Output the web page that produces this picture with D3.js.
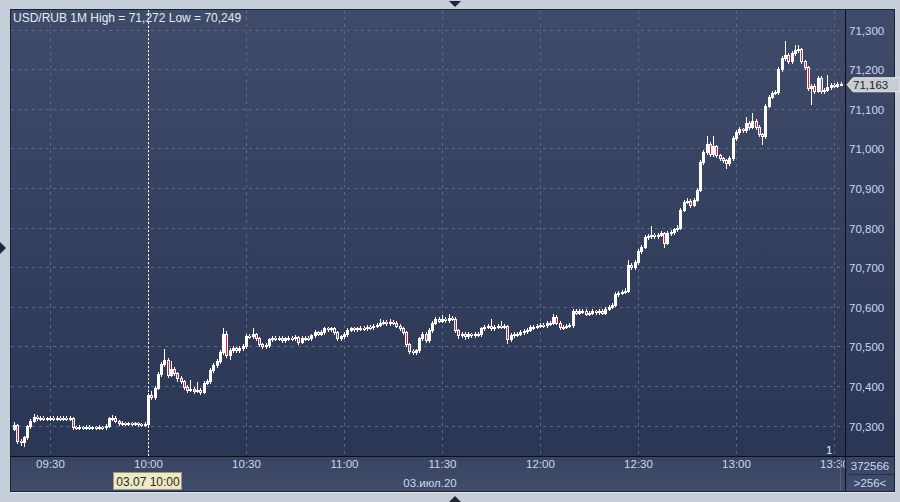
<!DOCTYPE html>
<html><head><meta charset="utf-8">
<script src="https://cdn.jsdelivr.net/npm/d3@7"></script>
<style>html,body{margin:0;padding:0;background:#c6ced9;overflow:hidden}svg{display:block}</style>
</head><body>
<svg id="chart" width="900" height="502"></svg>
<script>
// ---- data: USD/RUB 1-minute candles, 03.07.2020 from 09:19 ----
const startTime = "2020-07-03T09:19:00";
const title = "USD/RUB 1M High = 71,272 Low = 70,249";
const opens = [70.292,70.302,70.262,70.258,70.270,70.298,70.312,70.322,70.318,70.320,70.318,70.318,70.320,70.317,70.319,70.318,70.320,70.318,70.319,70.296,
70.295,70.297,70.295,70.297,70.294,70.296,70.295,70.297,70.296,70.300,70.318,70.320,70.312,70.306,70.307,70.305,70.306,70.305,70.306,70.304,
70.302,70.305,70.378,70.372,70.395,70.430,70.455,70.465,70.428,70.442,70.432,70.420,70.412,70.398,70.390,70.392,70.388,70.390,70.385,70.408,
70.412,70.440,70.452,70.462,70.485,70.530,70.478,70.490,70.495,70.490,70.495,70.500,70.527,70.525,70.530,70.520,70.505,70.500,70.503,70.518,
70.522,70.520,70.522,70.516,70.520,70.522,70.520,70.523,70.512,70.520,70.522,70.520,70.528,70.535,70.532,70.535,70.545,70.543,70.545,70.535,
70.520,70.525,70.530,70.542,70.545,70.543,70.545,70.547,70.545,70.550,70.548,70.552,70.555,70.560,70.562,70.558,70.562,70.560,70.552,70.545,
70.535,70.505,70.488,70.485,70.490,70.520,70.532,70.516,70.540,70.560,70.568,70.565,70.570,70.566,70.572,70.570,70.540,70.528,70.532,70.525,
70.530,70.528,70.530,70.531,70.545,70.550,70.552,70.545,70.550,70.552,70.550,70.551,70.518,70.528,70.530,70.532,70.535,70.538,70.542,70.548,
70.550,70.552,70.555,70.553,70.558,70.560,70.575,70.560,70.548,70.550,70.552,70.553,70.590,70.585,70.588,70.590,70.582,70.585,70.588,70.586,
70.590,70.585,70.595,70.600,70.605,70.632,70.635,70.638,70.640,70.705,70.700,70.712,70.740,70.752,70.775,70.778,70.780,70.778,70.782,70.785,
70.762,70.785,70.788,70.795,70.800,70.845,70.865,70.868,70.858,70.870,70.895,70.965,70.990,71.012,70.985,71.005,70.982,70.975,70.970,70.962,
70.975,71.025,71.040,71.048,71.045,71.065,71.055,71.070,71.055,71.035,71.030,71.108,71.130,71.140,71.142,71.200,71.228,71.235,71.220,71.240,
71.248,71.250,71.220,71.205,71.152,71.158,71.145,71.178,71.145,71.148,71.155,71.160,71.158,71.163];
const highs = [70.308,70.305,70.267,70.274,70.302,70.316,70.328,70.327,70.324,70.324,70.322,70.325,70.323,70.324,70.323,70.325,70.324,70.323,70.322,70.299,
70.301,70.300,70.302,70.301,70.300,70.300,70.301,70.300,70.305,70.322,70.326,70.323,70.315,70.311,70.310,70.310,70.309,70.310,70.309,70.307,
70.309,70.383,70.386,70.400,70.436,70.460,70.494,70.470,70.462,70.447,70.436,70.424,70.416,70.402,70.415,70.396,70.410,70.394,70.412,70.418,
70.445,70.457,70.467,70.490,70.545,70.538,70.495,70.500,70.499,70.500,70.505,70.532,70.531,70.545,70.534,70.524,70.509,70.508,70.522,70.527,
70.526,70.527,70.526,70.524,70.527,70.526,70.528,70.527,70.525,70.527,70.526,70.532,70.540,70.539,70.540,70.550,70.549,70.550,70.549,70.538,
70.529,70.535,70.547,70.550,70.549,70.550,70.552,70.551,70.555,70.554,70.557,70.560,70.570,70.567,70.566,70.570,70.566,70.564,70.556,70.549,
70.538,70.509,70.492,70.494,70.524,70.537,70.536,70.545,70.565,70.573,70.574,70.580,70.575,70.582,70.577,70.574,70.544,70.537,70.536,70.535,
70.534,70.535,70.536,70.550,70.555,70.557,70.570,70.555,70.557,70.565,70.556,70.555,70.533,70.535,70.537,70.540,70.543,70.547,70.553,70.555,
70.557,70.560,70.559,70.563,70.565,70.582,70.579,70.564,70.555,70.557,70.558,70.595,70.594,70.593,70.595,70.594,70.590,70.593,70.592,70.595,
70.594,70.600,70.605,70.610,70.637,70.640,70.643,70.648,70.718,70.710,70.717,70.745,70.757,70.780,70.783,70.805,70.785,70.787,70.790,70.789,
70.790,70.793,70.800,70.806,70.850,70.870,70.874,70.873,70.875,70.900,70.970,70.996,71.030,71.016,71.030,71.009,70.986,70.979,70.974,70.980,
71.030,71.045,71.053,71.052,71.080,71.069,71.088,71.074,71.059,71.039,71.113,71.135,71.145,71.148,71.205,71.234,71.272,71.240,71.245,71.262,
71.260,71.254,71.224,71.209,71.163,71.162,71.183,71.182,71.153,71.185,71.165,71.164,71.168,71.167];
const lows = [70.288,70.256,70.251,70.249,70.266,70.294,70.309,70.314,70.315,70.314,70.314,70.315,70.313,70.314,70.314,70.315,70.314,70.315,70.291,70.291,
70.292,70.291,70.292,70.290,70.291,70.291,70.292,70.292,70.292,70.297,70.315,70.308,70.302,70.302,70.301,70.302,70.301,70.302,70.300,70.299,
70.299,70.301,70.366,70.368,70.392,70.426,70.450,70.422,70.424,70.427,70.412,70.407,70.393,70.385,70.386,70.383,70.384,70.380,70.381,70.404,
70.408,70.436,70.448,70.458,70.481,70.472,70.468,70.485,70.486,70.486,70.491,70.496,70.520,70.521,70.516,70.500,70.496,70.496,70.499,70.514,
70.516,70.516,70.512,70.512,70.516,70.516,70.516,70.507,70.508,70.516,70.515,70.516,70.524,70.528,70.528,70.531,70.538,70.539,70.530,70.515,
70.516,70.521,70.526,70.538,70.539,70.539,70.541,70.541,70.541,70.544,70.544,70.548,70.551,70.556,70.554,70.554,70.556,70.548,70.541,70.530,
70.500,70.483,70.480,70.481,70.486,70.516,70.511,70.512,70.536,70.556,70.561,70.561,70.562,70.562,70.566,70.536,70.522,70.524,70.519,70.521,
70.524,70.524,70.526,70.527,70.541,70.546,70.541,70.541,70.546,70.546,70.546,70.508,70.514,70.524,70.526,70.528,70.531,70.534,70.538,70.544,
70.546,70.548,70.549,70.549,70.554,70.556,70.556,70.543,70.543,70.546,70.548,70.549,70.581,70.581,70.584,70.578,70.578,70.581,70.582,70.582,
70.581,70.581,70.591,70.596,70.601,70.628,70.631,70.634,70.636,70.694,70.696,70.708,70.736,70.748,70.771,70.774,70.774,70.774,70.778,70.750,
70.758,70.781,70.784,70.791,70.796,70.841,70.861,70.853,70.854,70.866,70.891,70.961,70.986,70.980,70.981,70.978,70.970,70.965,70.950,70.958,
70.971,71.021,71.036,71.040,71.041,71.050,71.051,71.050,71.030,71.012,71.026,71.104,71.126,71.136,71.138,71.196,71.224,71.215,71.216,71.236,
71.244,71.215,71.200,71.147,71.113,71.140,71.141,71.140,71.140,71.144,71.151,71.154,71.154,71.159];
const closes = [70.302,70.262,70.258,70.270,70.298,70.312,70.322,70.318,70.320,70.318,70.318,70.320,70.317,70.319,70.318,70.320,70.318,70.319,70.296,70.295,
70.297,70.295,70.297,70.294,70.296,70.295,70.297,70.296,70.300,70.318,70.320,70.312,70.306,70.307,70.305,70.306,70.305,70.306,70.304,70.302,
70.305,70.378,70.372,70.395,70.430,70.455,70.465,70.428,70.442,70.432,70.420,70.412,70.398,70.390,70.392,70.388,70.390,70.385,70.408,70.412,
70.440,70.452,70.462,70.485,70.530,70.478,70.490,70.495,70.490,70.495,70.500,70.527,70.525,70.530,70.520,70.505,70.500,70.503,70.518,70.522,
70.520,70.522,70.516,70.520,70.522,70.520,70.523,70.512,70.520,70.522,70.520,70.528,70.535,70.532,70.535,70.545,70.543,70.545,70.535,70.520,
70.525,70.530,70.542,70.545,70.543,70.545,70.547,70.545,70.550,70.548,70.552,70.555,70.560,70.562,70.558,70.562,70.560,70.552,70.545,70.535,
70.505,70.488,70.485,70.490,70.520,70.532,70.516,70.540,70.560,70.568,70.565,70.570,70.566,70.572,70.570,70.540,70.528,70.532,70.525,70.530,
70.528,70.530,70.531,70.545,70.550,70.552,70.545,70.550,70.552,70.550,70.551,70.518,70.528,70.530,70.532,70.535,70.538,70.542,70.548,70.550,
70.552,70.555,70.553,70.558,70.560,70.575,70.560,70.548,70.550,70.552,70.553,70.590,70.585,70.588,70.590,70.582,70.585,70.588,70.586,70.590,
70.585,70.595,70.600,70.605,70.632,70.635,70.638,70.640,70.705,70.700,70.712,70.740,70.752,70.775,70.778,70.780,70.778,70.782,70.785,70.762,
70.785,70.788,70.795,70.800,70.845,70.865,70.868,70.858,70.870,70.895,70.965,70.990,71.012,70.985,71.005,70.982,70.975,70.970,70.962,70.975,
71.025,71.040,71.048,71.045,71.065,71.055,71.070,71.055,71.035,71.030,71.108,71.130,71.140,71.142,71.200,71.228,71.235,71.220,71.240,71.248,
71.250,71.220,71.205,71.152,71.158,71.145,71.178,71.145,71.148,71.155,71.160,71.158,71.163,71.163];
const priceTicks = [70.3,70.4,70.5,70.6,70.7,70.8,70.9,71.0,71.1,71.2,71.3];
const timeTickStep = 30; // minutes
const lastPrice = 71.163;
const cursorTime = "2020-07-03T10:00:00";
const cursorLabel = "03.07 10:00";
const dateLabel = "03.июл.20";
const volumeText = "372566";
const barsText = ">256<";

// ---- layout ----
const L = 11, R = 845, T = 10, B = 456, BB = 491, RR = 894;
const svg = d3.select("#chart");
const font = "'Liberation Sans', Arial, sans-serif";
const parse = d3.isoParse;
const times = d3.range(closes.length).map(i => d3.timeMinute.offset(parse(startTime), i));
const x = d3.scaleTime().domain([parse("2020-07-03T09:30:00"), parse("2020-07-03T13:30:00")]).range([50, 834]);
const y = d3.scaleLinear().domain([70.3, 71.3]).range([425.5, 29.5]);

const defs = svg.append("defs");
const g1 = defs.append("linearGradient").attr("id","bg").attr("gradientUnits","userSpaceOnUse")
  .attr("x1",0).attr("y1",T).attr("x2",0).attr("y2",B);
g1.append("stop").attr("offset","0").attr("stop-color","#3f4b69");
g1.append("stop").attr("offset","1").attr("stop-color","#2b3554");
const g2 = defs.append("linearGradient").attr("id","bg2").attr("x1",0).attr("y1",0).attr("x2",0).attr("y2",1);
g2.append("stop").attr("offset","0").attr("stop-color","#38445f");
g2.append("stop").attr("offset","1").attr("stop-color","#414d6c");
defs.append("clipPath").attr("id","plotclip").append("rect").attr("x",L).attr("y",T).attr("width",R-L).attr("height",B-T);
defs.append("clipPath").attr("id","xclip").append("rect").attr("x",L).attr("y",B).attr("width",R-L).attr("height",BB-B);

// background
svg.append("rect").attr("width",900).attr("height",502).attr("fill","#c6ced9");
svg.append("rect").attr("x",L).attr("y",T).attr("width",RR-L).attr("height",B-T).attr("fill","url(#bg)");
svg.append("rect").attr("x",L).attr("y",B).attr("width",RR-L).attr("height",BB-B).attr("fill","url(#bg2)");

// grid
const grid = svg.append("g").attr("clip-path","url(#plotclip)");
grid.selectAll("line.h").data(priceTicks).join("line")
  .attr("x1",L).attr("x2",R).attr("y1",d=>Math.round(y(d))+0.5).attr("y2",d=>Math.round(y(d))+0.5)
  .attr("stroke","#5b6a89").attr("stroke-dasharray","3,4");
const xTicks = x.ticks(d3.timeMinute.every(timeTickStep));
grid.selectAll("line.v").data(xTicks).join("line")
  .attr("x1",d=>Math.round(x(d))+0.5).attr("x2",d=>Math.round(x(d))+0.5).attr("y1",T).attr("y2",B)
  .attr("stroke","#5b6a89").attr("stroke-dasharray","3,4");

// cursor line
grid.append("line").attr("x1",Math.round(x(parse(cursorTime)))+0.5).attr("x2",Math.round(x(parse(cursorTime)))+0.5)
  .attr("y1",T).attr("y2",B).attr("stroke","#ffffff").attr("stroke-dasharray","2,2");

// candles
const candles = grid.append("g");
times.forEach((t,i) => {
  const cx = Math.round(x(t));
  const o = opens[i], c = closes[i], h = highs[i], l = lows[i];
  const up = c >= o;
  candles.append("line").attr("x1",cx+0.5).attr("x2",cx+0.5)
    .attr("y1",Math.round(y(h))).attr("y2",Math.round(y(l))+1).attr("stroke","#ffffff").attr("stroke-width",1);
  const top = Math.round(y(Math.max(o,c))), bot = Math.round(y(Math.min(o,c)));
  const hgt = Math.max(1, bot - top);
  candles.append("rect").attr("x",cx-1).attr("y",top).attr("width",3).attr("height",hgt+1).attr("fill","#ffffff");
  if (!up) {
    candles.append("rect").attr("x",cx).attr("y",hgt >= 2 ? top+1 : top).attr("width",1)
      .attr("height",hgt >= 2 ? hgt-1 : 1).attr("fill","#ee1b3c");
  }
});

// frame lines
svg.append("line").attr("x1",R+0.5).attr("x2",R+0.5).attr("y1",T).attr("y2",BB).attr("stroke","#0b101c");
svg.append("line").attr("x1",L).attr("x2",RR).attr("y1",B+0.5).attr("y2",B+0.5).attr("stroke","#0b101c");
svg.append("rect").attr("x",L-0.5).attr("y",T-0.5).attr("width",RR-L+1).attr("height",BB-T+1)
  .attr("fill","none").attr("stroke","#1a2236");
svg.append("line").attr("x1",L).attr("x2",RR+1).attr("y1",BB+1.5).attr("y2",BB+1.5).attr("stroke","#e4e8ee");

// y axis labels
const fmt = v => d3.format(".3f")(v).replace(".", ",");
const yAxis = d3.axisRight(y).tickValues(priceTicks).tickFormat(fmt).tickSize(0).tickPadding(0);
const ya = svg.append("g").attr("transform",`translate(${R+4},1)`).call(yAxis);
ya.select(".domain").remove();
ya.selectAll("text").attr("fill","#c9d9ef").style("font-family",font).style("font-size","11.5px");

// x axis labels
const xAxis = d3.axisBottom(x).tickValues(xTicks).tickFormat(d3.timeFormat("%H:%M")).tickSize(0).tickPadding(0);
const xa = svg.append("g").attr("clip-path","url(#xclip)").append("g").attr("transform",`translate(0,${B+4})`).call(xAxis);
xa.select(".domain").remove();
xa.selectAll("text").attr("fill","#c9d9ef").style("font-family",font).style("font-size","11.5px");

svg.append("text").attr("x",430).attr("y",487).attr("text-anchor","middle").attr("fill","#c9d9ef")
  .style("font-family",font).style("font-size","11.5px").text(dateLabel);

// cursor date tag
const cxT = x(parse(cursorTime));
svg.append("rect").attr("x",cxT-34.5).attr("y",472.5).attr("width",68).attr("height",17)
  .attr("fill","#efeac6").attr("stroke","#9a9678");
svg.append("text").attr("x",cxT).attr("y",485.5).attr("text-anchor","middle").attr("fill","#2a2a20")
  .style("font-family",font).style("font-size","12px").text(cursorLabel);

// last price tag
const ly = y(lastPrice);
svg.append("path").attr("d",`M${R+2},${ly+1} L${R+8},${ly-6} L900,${ly-6} L900,${ly+8} L${R+8},${ly+8} Z`)
  .attr("fill","#c9cdd2").attr("stroke","#e6e8ea");
svg.append("text").attr("x",R+8).attr("y",ly+5.5).attr("fill","#1c2230")
  .style("font-family",font).style("font-size","11.5px").text(fmt(lastPrice));

// title
svg.append("text").attr("x",13).attr("y",22).attr("fill","#e3ebf6")
  .style("font-family",font).style("font-size","12px").text(title);

// misc
svg.append("text").attr("x",826).attr("y",454).attr("fill","#e3ebf6")
  .style("font-family",font).style("font-size","11.5px").text("1");
svg.append("text").attr("x",870).attr("y",470).attr("text-anchor","middle").attr("fill","#c9d9ef")
  .style("font-family",font).style("font-size","11.5px").text(volumeText);
svg.append("line").attr("x1",R+4).attr("x2",RR).attr("y1",474.5).attr("y2",474.5).attr("stroke","#26304a");
svg.append("text").attr("x",870).attr("y",487).attr("text-anchor","middle").attr("fill","#c9d9ef")
  .style("font-family",font).style("font-size","11.5px").text(barsText);
svg.append("line").attr("x1",840.5).attr("x2",840.5).attr("y1",B+1).attr("y2",BB).attr("stroke","#56627e");

// outer handles
svg.append("path").attr("d","M449,1 L461,1 L455,7 Z").attr("fill","#1f2636");
svg.append("path").attr("d","M0,242 L6,248 L0,254 Z").attr("fill","#1f2636");
svg.append("path").attr("d","M449,502 L461,502 L455,496 Z").attr("fill","#1f2636");
</script>
</body></html>
